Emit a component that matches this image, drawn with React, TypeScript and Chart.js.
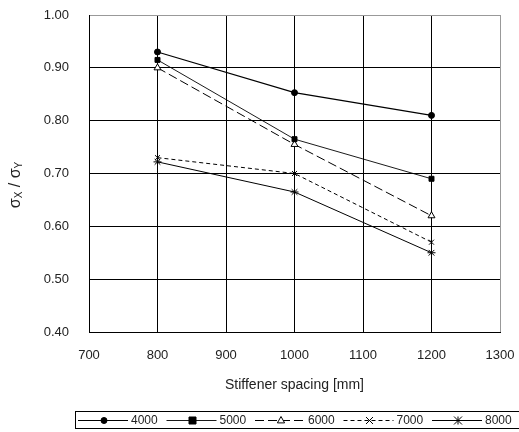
import { useEffect, useRef } from "react";
import { Chart, registerables } from "chart.js";

Chart.register(...registerables);

// Stiffener spacing [mm]
const spacing = [800, 1000, 1200];

// Series names (one per curve)
const seriesNames = ["4000", "5000", "6000", "7000", "8000"];

// sigma_x / sigma_y values per series
const s4000 = [0.93, 0.853, 0.81];
const s5000 = [0.915, 0.765, 0.69];
const s6000 = [0.9, 0.755, 0.62];
const s7000 = [0.73, 0.7, 0.57];
const s8000 = [0.722, 0.665, 0.55];

const seriesValues = [s4000, s5000, s6000, s7000, s8000];

// Axis ranges
const xMin = 700;
const xMax = 1300;
const xStep = 100;
const yMin = 0.4;
const yMax = 1.0;
const yStep = 0.1;

type Look = { pointStyle: string; radius: number; dash: number[]; fill: string; width: number };
const looks: Look[] = [
  { pointStyle: "circle", radius: 3, dash: [], fill: "#000", width: 1.2 },
  { pointStyle: "rect", radius: 3.5, dash: [], fill: "#000", width: 0.9 },
  { pointStyle: "triangle", radius: 4, dash: [9, 4], fill: "#fff", width: 1 },
  { pointStyle: "crossRot", radius: 3.5, dash: [4, 3], fill: "#000", width: 1 },
  { pointStyle: "star", radius: 4, dash: [], fill: "#000", width: 1 },
];

const FONT = "'Liberation Sans', Arial, sans-serif";

function drawMarker(ctx: CanvasRenderingContext2D, style: string, x: number, y: number, r: number, fill: string) {
  ctx.save();
  ctx.setLineDash([]);
  ctx.strokeStyle = "#000";
  ctx.fillStyle = fill;
  ctx.lineWidth = 1;
  ctx.beginPath();
  if (style === "circle") {
    ctx.arc(x, y, r, 0, Math.PI * 2);
    ctx.fill();
    ctx.stroke();
  } else if (style === "rect") {
    ctx.rect(x - r, y - r, r * 2, r * 2);
    ctx.fill();
    ctx.stroke();
  } else if (style === "triangle") {
    ctx.moveTo(x, y - r);
    ctx.lineTo(x + r * 0.9, y + r * 0.6);
    ctx.lineTo(x - r * 0.9, y + r * 0.6);
    ctx.closePath();
    ctx.fill();
    ctx.stroke();
  } else if (style === "crossRot") {
    ctx.moveTo(x - r, y - r);
    ctx.lineTo(x + r, y + r);
    ctx.moveTo(x + r, y - r);
    ctx.lineTo(x - r, y + r);
    ctx.stroke();
  } else if (style === "star") {
    ctx.moveTo(x - r, y - r);
    ctx.lineTo(x + r, y + r);
    ctx.moveTo(x + r, y - r);
    ctx.lineTo(x - r, y + r);
    ctx.moveTo(x, y - r);
    ctx.lineTo(x, y + r);
    ctx.moveTo(x - r, y);
    ctx.lineTo(x + r, y);
    ctx.stroke();
  }
  ctx.restore();
}

// Rotated y-axis title with subscripts, plus a boxed legend below the axis
const decorations = {
  id: "decorations",
  afterDraw(chart: Chart) {
    const ctx = chart.ctx;

    // y-axis title: σX / σY
    ctx.save();
    ctx.translate(16, 185);
    ctx.rotate(-Math.PI / 2);
    ctx.fillStyle = "#222";
    ctx.textBaseline = "middle";
    const big = `16px ${FONT}`;
    const small = `10px ${FONT}`;
    const parts: [string, string, number][] = [
      ["σ", big, 0],
      ["X", small, 3],
      [" / ", big, 0],
      ["σ", big, 0],
      ["Y", small, 3],
    ];
    let total = 0;
    for (const [t, f] of parts) {
      ctx.font = f;
      total += ctx.measureText(t).width;
    }
    let cx = -total / 2;
    for (const [t, f, dy] of parts) {
      ctx.font = f;
      ctx.fillText(t, cx, dy);
      cx += ctx.measureText(t).width;
    }
    ctx.restore();

    // legend box
    ctx.save();
    ctx.strokeStyle = "#000";
    ctx.lineWidth = 1;
    ctx.strokeRect(75.5, 411.5, 470, 17);
    ctx.font = `12px ${FONT}`;
    ctx.fillStyle = "#222";
    ctx.textBaseline = "middle";
    const ly = 420.5;
    const pitch = 88.5;
    seriesNames.forEach((name, i) => {
      const look = looks[i];
      const x0 = 78 + i * pitch;
      ctx.setLineDash(look.dash);
      ctx.lineWidth = look.width;
      ctx.beginPath();
      ctx.moveTo(x0, ly);
      ctx.lineTo(x0 + 50, ly);
      ctx.stroke();
      drawMarker(ctx, look.pointStyle, x0 + 26, ly, look.radius, look.fill);
      ctx.fillText(name, x0 + 53, ly + 0.5);
    });
    ctx.restore();
  },
};

export default function App() {
  const canvasRef = useRef<HTMLCanvasElement | null>(null);

  useEffect(() => {
    document.body.style.margin = "0";
    const canvas = canvasRef.current;
    if (!canvas) return;

    const datasets = seriesNames.map((name, i) => ({
      label: name,
      data: spacing.map((x, j) => ({ x, y: seriesValues[i][j] })),
      borderColor: "#000",
      backgroundColor: looks[i].fill,
      borderWidth: looks[i].width,
      borderDash: looks[i].dash,
      pointStyle: looks[i].pointStyle as any,
      pointRadius: looks[i].radius,
      pointBorderColor: "#000",
      pointBackgroundColor: looks[i].fill,
      pointBorderWidth: 1,
      tension: 0,
      fill: false,
    }));

    const chart = new Chart(canvas, {
      type: "line",
      data: { datasets },
      options: {
        animation: false,
        responsive: false,
        layout: { autoPadding: false, padding: { top: 15, right: 19, left: 0, bottom: 35 } },
        plugins: {
          legend: { display: false },
          tooltip: { enabled: false },
        },
        scales: {
          x: {
            type: "linear",
            min: xMin,
            max: xMax,
            border: { color: "#000", width: 1 },
            grid: {
              drawTicks: false,
              color: (c: any) => (c.tick && c.tick.value === xMax ? "#999" : "#000"),
              lineWidth: 1,
            },
            ticks: {
              stepSize: xStep,
              padding: 16,
              color: "#222",
              font: { family: FONT, size: 13 },
              callback: (v: any) => String(v),
            },
            title: {
              display: true,
              text: "Stiffener spacing [mm]",
              color: "#222",
              font: { family: FONT, size: 14 },
              padding: { top: 4, bottom: 3 },
            },
            afterFit: (s: any) => {
              s.height = 65;
              s.paddingLeft = 0;
              s.paddingRight = 0;
            },
          },
          y: {
            type: "linear",
            min: yMin,
            max: yMax,
            border: { color: "#000", width: 1 },
            grid: {
              drawTicks: false,
              color: (c: any) => (c.tick && Math.abs(c.tick.value - yMax) < 1e-6 ? "#999" : "#000"),
              lineWidth: 1,
            },
            ticks: {
              stepSize: yStep,
              padding: 20,
              color: "#222",
              font: { family: FONT, size: 13 },
              callback: (v: any) => Number(v).toFixed(2),
            },
            afterFit: (s: any) => {
              s.width = 89;
              s.paddingTop = 0;
              s.paddingBottom = 0;
            },
          },
        },
      },
      plugins: [decorations],
    });

    return () => chart.destroy();
  }, []);

  return (
    <div style={{ position: "relative", width: 519, height: 432, background: "#fff" }}>
      <canvas ref={canvasRef} width={519} height={432} style={{ display: "block" }} />
    </div>
  );
}
